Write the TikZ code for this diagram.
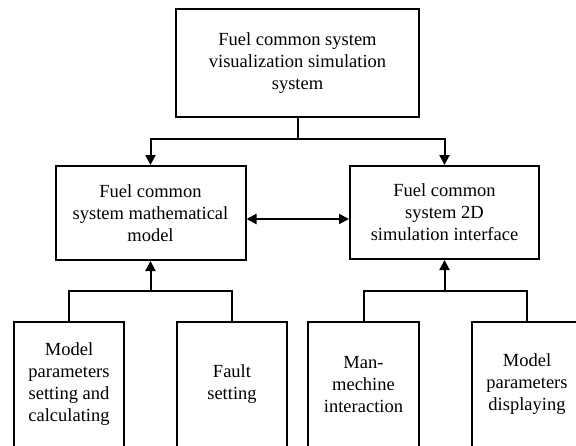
\documentclass[tikz,border=0pt]{standalone}
\usepackage{fontspec}
\setmainfont{Liberation Serif}
\usetikzlibrary{arrows.meta}
\begin{document}
\begin{tikzpicture}[x=1pt,y=-1pt,
  box/.style={draw, line width=2pt, rectangle, align=center, inner sep=0pt,
    font=\fontsize{18.5}{22}\selectfont},
  conn/.style={line width=2pt},
  arr/.style={conn, -{Triangle[length=10pt,width=10pt]}},
  darr/.style={conn, {Triangle[length=10pt,width=10pt]}-{Triangle[length=10pt,width=10pt]}}]
\useasboundingbox (0,0) rectangle (576,445);
\clip (0,0) rectangle (576,445);
\fill[white] (0,0) rectangle (576,445);
\node[box, minimum width=243pt, minimum height=108pt] (top) at (297.5,63)
  {Fuel common system\\visualization simulation\\system};
\node[box, minimum width=190pt, minimum height=94pt] (L) at (150.5,213)
  {Fuel common\\system mathematical\\model};
\node[box, minimum width=189pt, minimum height=93pt] (R) at (444.5,212.5)
  {Fuel common\\system 2D\\simulation interface};
\node[box, minimum width=110pt, minimum height=125pt] (B1) at (69,384.5)
  {Model\\parameters\\setting and\\calculating};
\node[box, minimum width=110pt, minimum height=125pt] (B2) at (232,384.5)
  {Fault\\setting};
\node[box, minimum width=111pt, minimum height=125pt] (B3) at (363.5,384.5)
  {Man-\\mechine\\interaction};
\node[box, minimum width=110pt, minimum height=125pt] (B4) at (527,384.5)
  {Model\\parameters\\displaying};
\coordinate (j1) at (297.5,138.5);
\coordinate (j2) at (150.5,291);
\coordinate (j3) at (444.5,291);
\draw[conn] (top.south) -- (j1);
\draw[arr] (j1) -| (L.north);
\draw[arr] (j1) -| (R.north);
\draw[darr] ([yshift=-6pt]L.east) -- ([yshift=-6.5pt]R.west);
\draw[conn] (B1.north) |- (j2) -| (B2.north);
\draw[arr] (j2) -- (L.south);
\draw[conn] (B3.north) |- (j3) -| (B4.north);
\draw[arr] (j3) -- (R.south);
\end{tikzpicture}
\end{document}
